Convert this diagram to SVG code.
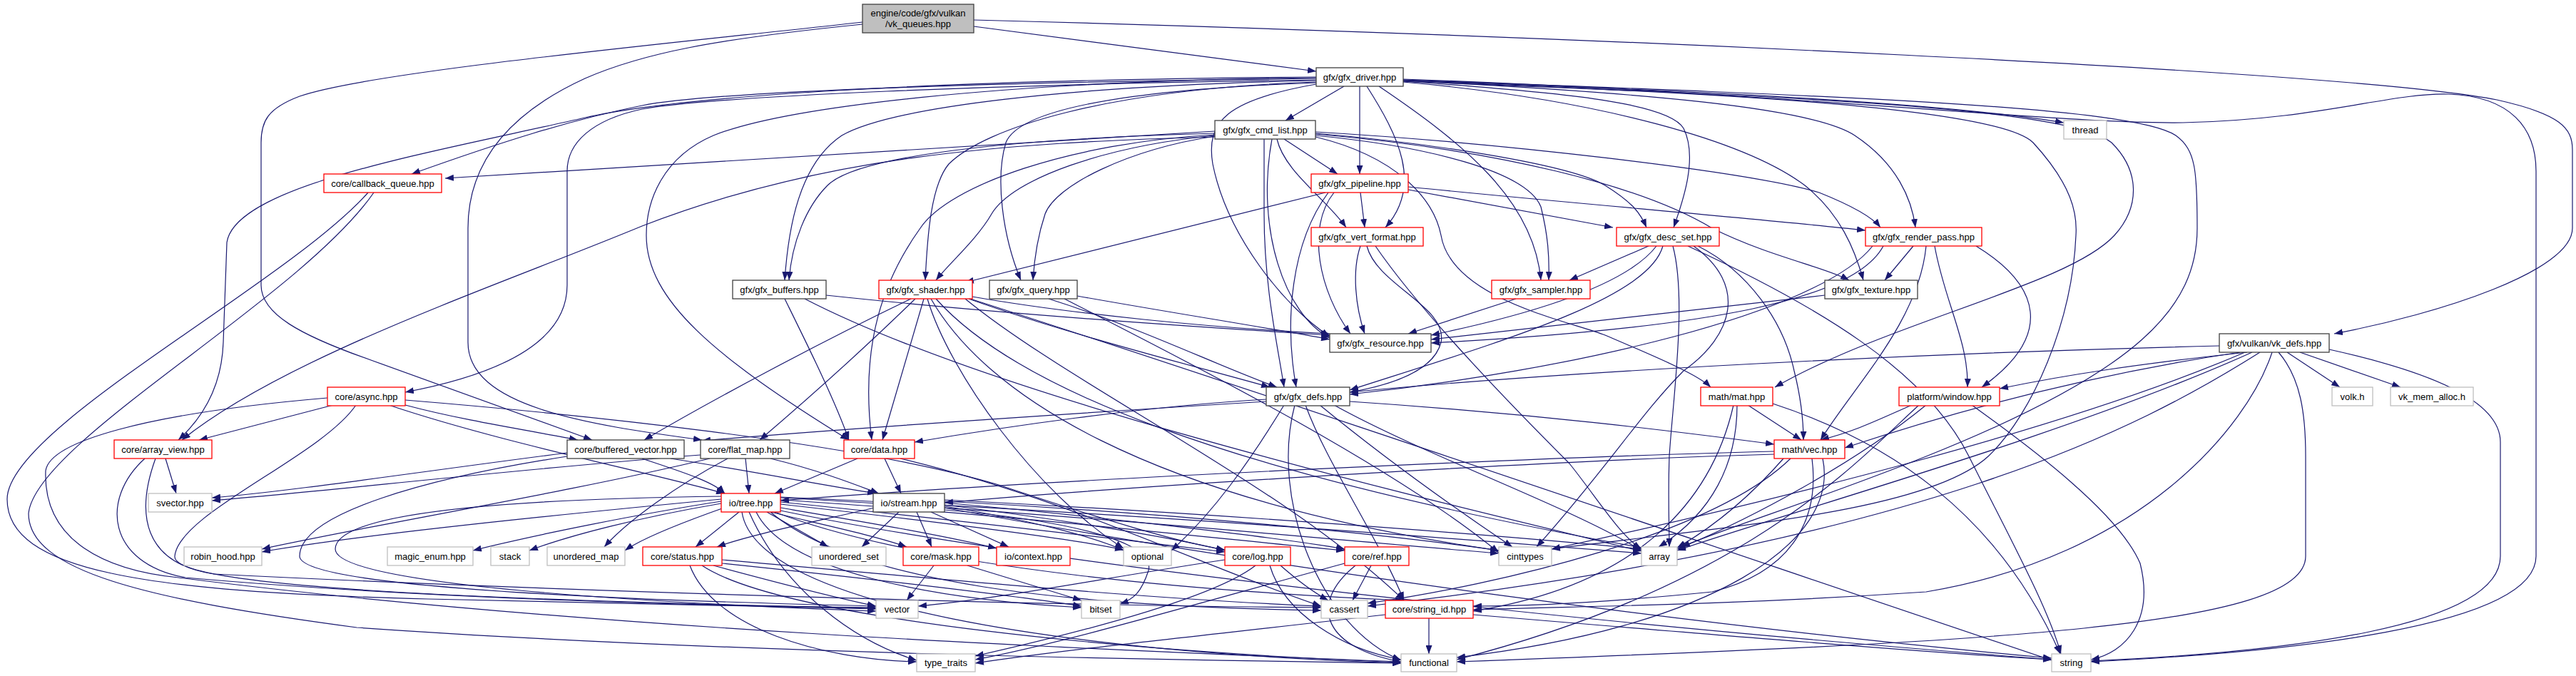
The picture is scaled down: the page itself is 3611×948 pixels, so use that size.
<svg xmlns="http://www.w3.org/2000/svg" width="3611" height="948" viewBox="0 0 3611 948">
<style>
text{font-family:"Liberation Sans",Arial,Helvetica,sans-serif;font-size:13px;text-anchor:middle;fill:#000}
rect{fill:#fff;stroke-width:1.3}
.k rect{stroke:#404040}
.r rect{stroke:#ff0000}
.g rect{stroke:#bfbfbf}
.root rect{fill:#bfbfbf;stroke:#404040}
#edges path{fill:none;stroke:#191970;stroke-width:1.2;marker-end:url(#a)}
</style>
<defs>
<marker id="a" markerWidth="12" markerHeight="9" refX="12" refY="4.5" orient="auto" markerUnits="userSpaceOnUse">
<path d="M0,0 L12,4.5 L0,9 z" fill="#191970"/>
</marker>
</defs>
<rect x="0" y="0" width="3611" height="948" style="fill:#fff;stroke:none"/>
<g id="edges">
<path d="M1365,37 L1845,100"/>
<path d="M1365,28 C2200,50 3300,100 3500,140 C3590,160 3606,180 3606,210 L3606,320 C3606,380 3420,440 3272,468"/>
<path d="M1209,31 C950,60 520,100 420,135 C375,152 366,170 366,200 L366,400 C366,440 420,470 520,505 L830,617"/>
<path d="M1209,34 C1000,55 900,75 820,110 C700,165 656,240 656,320 L656,480 C656,570 820,595 984,617"/>
<path d="M1884,121 L1802,169"/>
<path d="M1967,112 C2300,125 2700,140 2893,172"/>
<path d="M1845,110 C1400,115 1000,128 900,148 C800,168 700,200 577,244"/>
<path d="M1845,112 C1400,118 1000,135 900,153 C830,168 795,200 795,240 L795,400 C795,480 700,525 568,550"/>
<path d="M1845,108 C1300,112 950,135 820,165 C600,215 330,260 318,340 L313,480 C311,540 285,585 250,617"/>
<path d="M1845,113 C1500,120 1250,150 1180,190 C1120,230 1105,320 1100,393"/>
<path d="M1845,115 C1550,125 1380,180 1330,230 C1305,260 1300,330 1297,393"/>
<path d="M1845,116 C1600,125 1430,150 1410,200 C1395,250 1405,330 1431,393"/>
<path d="M1845,109 C1400,114 1100,150 1000,190 C930,220 906,280 906,330 C906,420 1000,500 1190,617"/>
<path d="M1906,121 L1906,244"/>
<path d="M1916,121 C1960,190 1995,260 1942,319"/>
<path d="M1967,114 C2200,130 2340,145 2360,180 C2380,220 2360,280 2346,319"/>
<path d="M1967,113 C2300,130 2540,150 2600,190 C2660,230 2680,280 2685,319"/>
<path d="M1933,121 C2050,200 2150,280 2160,393"/>
<path d="M1967,115 C2250,140 2450,200 2530,260 C2580,300 2600,350 2612,393"/>
<path d="M1845,118 C1720,140 1690,170 1700,230 C1720,330 1800,430 1864,472"/>
<path d="M1967,114 C2500,135 2900,150 2960,200 C3000,240 3000,290 2964,330 C2900,400 2650,450 2488,543"/>
<path d="M1967,112 C2600,135 2990,150 3050,190 C3078,210 3080,240 3080,320 C3080,430 3000,520 2700,640 C2550,700 2420,740 2357,767"/>
<path d="M1967,113 C2400,130 2800,150 2850,200 C2905,260 2912,300 2910,330 C2905,450 2850,580 2787,640 C2700,720 2400,740 2175,770"/>
<path d="M1967,111 C2500,130 2900,175 3060,172 C3250,168 3350,130 3432,132 C3520,135 3555,180 3555,240 L3555,780 C3555,880 3200,915 2931,928"/>
<path d="M1703,184 L624,250"/>
<path d="M1703,192 C1400,200 1150,220 900,317 C700,400 400,500 255,617"/>
<path d="M1703,187 C1400,195 1200,220 1160,260 C1130,290 1110,340 1106,393"/>
<path d="M1703,190 C1550,205 1420,250 1390,300 C1370,335 1330,370 1312,393"/>
<path d="M1703,191 C1580,210 1480,260 1465,300 C1455,330 1450,360 1448,393"/>
<path d="M1703,189 C1500,200 1330,260 1290,320 C1240,390 1205,480 1222,617"/>
<path d="M1800,195 L1875,244"/>
<path d="M1790,195 C1800,240 1860,280 1887,319"/>
<path d="M1844,187 C2000,200 2200,230 2250,260 C2290,285 2300,300 2308,319"/>
<path d="M1844,185 C2100,200 2450,240 2550,270 C2600,290 2625,305 2636,319"/>
<path d="M1844,190 C2000,205 2140,240 2160,290 C2170,330 2172,360 2171,393"/>
<path d="M1844,188 C2100,210 2300,260 2400,320 C2480,360 2560,375 2592,393"/>
<path d="M1783,195 C1760,320 1800,440 1864,474"/>
<path d="M1772,195 L1772,300 C1772,400 1790,480 1800,543"/>
<path d="M1844,192 C1960,220 2010,280 2020,330 C2035,420 2200,450 2250,470 C2320,500 2380,525 2398,543"/>
<path d="M1858,270 L1353,396"/>
<path d="M1907,270 L1913,319"/>
<path d="M1974,266 L2261,319"/>
<path d="M1974,262 C2200,285 2450,305 2615,323"/>
<path d="M1870,270 C1830,320 1850,410 1893,468"/>
<path d="M1862,270 C1810,340 1800,450 1817,543"/>
<path d="M1907,345 C1895,380 1900,430 1913,468"/>
<path d="M1916,345 C1930,400 2030,430 2020,480 C2010,520 1950,540 1892,550"/>
<path d="M1928,345 C2000,450 2150,600 2200,650 C2240,700 2270,750 2301,770"/>
<path d="M2311,345 L2200,393"/>
<path d="M2322,345 C2280,400 2150,440 2006,470"/>
<path d="M2331,345 C2310,420 2100,480 1892,547"/>
<path d="M2380,345 C2450,380 2500,450 2515,520 C2525,560 2528,590 2528,617"/>
<path d="M2345,345 C2365,420 2345,560 2340,640 C2338,700 2340,740 2340,767"/>
<path d="M2374,345 C2450,400 2430,470 2360,520 C2300,580 2250,660 2154,767"/>
<path d="M2366,345 C2550,430 2700,520 2760,640 C2820,760 2870,850 2889,917"/>
<path d="M2682,345 L2642,393"/>
<path d="M2640,345 C2600,420 2400,460 2006,481"/>
<path d="M2625,345 C2550,440 2200,520 1892,553"/>
<path d="M2770,345 C2860,400 2880,470 2778,543"/>
<path d="M2700,345 C2690,450 2600,540 2552,617"/>
<path d="M2125,419 L1974,468"/>
<path d="M2558,414 L2006,476"/>
<path d="M1158,414 C1400,440 1700,460 1864,470"/>
<path d="M1100,419 C1130,480 1170,560 1190,617"/>
<path d="M1128,419 C1400,560 2000,700 2301,773"/>
<path d="M1277,419 C1150,480 1000,560 903,617"/>
<path d="M1283,419 C1200,500 1120,570 1065,617"/>
<path d="M1295,419 L1237,617"/>
<path d="M1363,416 C1500,440 1700,460 1864,468"/>
<path d="M1358,419 C1500,470 1700,520 1780,543"/>
<path d="M1300,419 C1330,520 1450,690 1575,769"/>
<path d="M1305,419 C1380,550 1600,700 2101,772"/>
<path d="M1312,419 C1420,540 1700,660 2301,768"/>
<path d="M1353,419 C1500,540 1800,680 1968,842"/>
<path d="M1360,419 C1800,560 2500,800 2876,926"/>
<path d="M1510,415 C1650,440 1780,460 1864,476"/>
<path d="M1470,419 C1600,460 1700,510 1790,543"/>
<path d="M1492,419 C1650,500 1950,650 2101,775"/>
<path d="M1775,560 C1600,570 1400,600 1282,620"/>
<path d="M1775,563 C1500,580 1200,600 984,618"/>
<path d="M1892,563 C2150,580 2350,605 2487,623"/>
<path d="M1800,568 C1750,650 1700,720 1642,772"/>
<path d="M1850,568 C1950,650 2050,720 2120,767"/>
<path d="M1870,568 C2000,640 2200,710 2301,772"/>
<path d="M1830,568 C1860,650 1930,750 1968,842"/>
<path d="M1815,568 C1780,700 1850,880 1964,926"/>
<path d="M2450,568 L2525,617"/>
<path d="M2435,568 C2435,650 2400,720 2325,767"/>
<path d="M2430,568 C2400,700 2300,820 2065,857"/>
<path d="M2485,566 C2650,620 2800,720 2888,917"/>
<path d="M2680,568 C2630,590 2600,605 2552,617"/>
<path d="M2764,568 C2850,630 2970,720 3000,790 C3020,870 2980,915 2931,925"/>
<path d="M2690,568 C2600,650 2450,820 2042,925"/>
<path d="M2700,568 C2600,650 2450,730 2351,770"/>
<path d="M2712,345 C2725,420 2760,480 2758,543"/>
<path d="M3111,485 C2700,495 2200,520 1892,550"/>
<path d="M3150,494 C3000,510 2900,525 2803,545"/>
<path d="M3206,494 L3280,543"/>
<path d="M3224,494 L3365,543"/>
<path d="M3265,490 C3400,520 3505,560 3505,620 L3505,780 C3505,880 3200,915 2931,927"/>
<path d="M3194,494 C3225,530 3232,580 3232,640 L3232,780 C3232,880 2800,900 2042,928"/>
<path d="M3140,494 C2900,530 2700,590 2586,628"/>
<path d="M3147,494 C2900,600 2500,700 2175,770"/>
<path d="M3157,494 C2900,610 2500,720 2351,772"/>
<path d="M3168,494 C3000,600 2700,760 1917,850"/>
<path d="M3185,494 C3150,600 3000,780 2700,830 C2400,850 2200,850 2065,855"/>
<path d="M2487,633 C2200,640 1500,670 1094,702"/>
<path d="M2487,637 C2200,645 1600,680 1324,705"/>
<path d="M2540,643 C2550,720 2520,800 2400,830 C2250,845 2150,850 2065,850"/>
<path d="M2555,643 C2580,760 2400,880 2042,922"/>
<path d="M2510,643 C2400,750 2100,820 1917,846"/>
<path d="M2500,643 C2450,700 2400,740 2351,768"/>
<path d="M467,568 L279,617"/>
<path d="M568,568 C650,590 750,605 810,617"/>
<path d="M545,568 C700,620 900,660 1016,692"/>
<path d="M499,568 C450,640 250,720 245,780 C240,820 600,840 1228,853"/>
<path d="M459,558 C200,580 70,620 64,660 C60,760 150,800 250,810 C800,880 1500,910 1964,928"/>
<path d="M568,561 C800,580 1200,620 1400,680 C1550,730 1650,760 1717,771"/>
<path d="M232,643 L247,692"/>
<path d="M203,643 C140,700 150,790 260,810 C600,840 1000,850 1228,852"/>
<path d="M218,643 C190,720 200,790 300,805 C800,830 1500,850 1852,852"/>
<path d="M795,635 C600,660 400,690 297,698"/>
<path d="M900,643 C950,660 1000,675 1016,692"/>
<path d="M940,643 C1050,660 1150,680 1228,692"/>
<path d="M795,640 C600,670 420,720 420,780 C420,820 800,840 1228,850"/>
<path d="M1045,643 L1050,692"/>
<path d="M1080,643 C1150,660 1200,680 1232,692"/>
<path d="M995,643 C800,690 500,740 367,770"/>
<path d="M1020,643 C950,680 880,730 847,767"/>
<path d="M982,638 C700,660 450,690 297,702"/>
<path d="M1202,643 L1086,692"/>
<path d="M1240,643 L1263,692"/>
<path d="M1262,643 C1500,700 1700,800 1852,850"/>
<path d="M1011,700 C800,720 500,750 367,774"/>
<path d="M1011,703 C900,720 750,750 663,772"/>
<path d="M1011,706 C900,725 800,750 742,772"/>
<path d="M1015,712 C950,735 900,755 876,772"/>
<path d="M1036,718 L975,767"/>
<path d="M1075,718 L1161,767"/>
<path d="M1080,718 C1150,735 1230,752 1271,767"/>
<path d="M1094,712 C1200,730 1320,750 1397,769"/>
<path d="M1094,707 C1300,730 1500,755 1575,771"/>
<path d="M1094,704 C1350,730 1600,760 1717,774"/>
<path d="M1094,701 C1400,720 1750,760 1885,772"/>
<path d="M1094,698 C1500,720 1900,760 2101,776"/>
<path d="M1094,697 C1600,720 2100,760 2301,776"/>
<path d="M1011,696 C700,700 470,720 470,770 C470,820 900,845 1228,857"/>
<path d="M1060,718 C1100,800 1300,840 1516,852"/>
<path d="M1080,718 C1200,820 1500,850 1852,856"/>
<path d="M1086,718 C1300,800 1700,830 1968,842"/>
<path d="M1050,718 C1100,830 1200,900 1285,926"/>
<path d="M1040,718 C1060,850 1500,915 1964,930"/>
<path d="M1094,716 C1500,800 2300,880 2876,925"/>
<path d="M1226,712 C1150,730 1050,750 1005,767"/>
<path d="M1260,718 L1208,767"/>
<path d="M1285,718 L1306,767"/>
<path d="M1305,718 L1414,767"/>
<path d="M1324,710 C1450,730 1540,755 1575,772"/>
<path d="M1324,708 C1500,730 1650,755 1717,772"/>
<path d="M1324,705 C1550,725 1800,755 1885,770"/>
<path d="M1324,703 C1650,720 1950,750 2101,772"/>
<path d="M1324,701 C1700,720 2100,750 2301,770"/>
<path d="M1324,715 C1500,730 1620,760 1610,800 C1600,830 1590,840 1570,847"/>
<path d="M1324,712 C1800,800 2400,880 2876,923"/>
<path d="M1000,793 C1100,820 1180,840 1228,850"/>
<path d="M967,793 C1000,880 1150,925 1285,928"/>
<path d="M984,793 C1100,870 1600,915 1964,929"/>
<path d="M1012,785 C1300,810 1600,840 1852,850"/>
<path d="M1012,790 C1300,820 1450,840 1516,850"/>
<path d="M1309,793 L1271,842"/>
<path d="M1356,793 L1516,842"/>
<path d="M1717,785 C1550,810 1400,840 1287,850"/>
<path d="M1760,793 C1700,840 1500,890 1367,920"/>
<path d="M1780,793 C1800,860 1880,910 1964,925"/>
<path d="M1795,793 C1820,815 1840,830 1862,842"/>
<path d="M1922,793 L1896,842"/>
<path d="M1900,793 C1830,850 1860,910 1964,928"/>
<path d="M1885,790 C1700,840 1500,900 1367,925"/>
<path d="M2003,867 L2003,917"/>
<path d="M2065,862 C2400,890 2700,915 2876,925"/>
<path d="M1942,862 C1700,890 1500,910 1367,930"/>
<path d="M516,270 C400,400 10,600 10,700 C10,800 200,830 600,840 C900,848 1100,852 1228,854"/>
<path d="M524,270 C420,420 50,620 40,720 C40,800 200,840 500,880 C1000,915 1600,925 1964,930"/>
</g>
<g id="n_root" class="root"><rect x="1209" y="6" width="156" height="40"/><text x="1287" y="22.5">engine/code/gfx/vulkan</text><text x="1287" y="38">/vk_queues.hpp</text></g>
<g id="n_driver" class="k"><rect x="1845" y="95" width="122" height="26"/><text x="1906" y="112.5">gfx/gfx_driver.hpp</text></g>
<g id="n_cmd_list" class="k"><rect x="1703" y="169" width="141" height="26"/><text x="1773.5" y="186.5">gfx/gfx_cmd_list.hpp</text></g>
<g id="n_thread" class="g"><rect x="2893" y="169" width="60" height="26"/><text x="2923" y="186.5">thread</text></g>
<g id="n_callback_queue" class="r"><rect x="454" y="244" width="165" height="26"/><text x="536.5" y="261.5">core/callback_queue.hpp</text></g>
<g id="n_pipeline" class="r"><rect x="1838" y="244" width="136" height="26"/><text x="1906" y="261.5">gfx/gfx_pipeline.hpp</text></g>
<g id="n_vert_format" class="r"><rect x="1838" y="319" width="157" height="26"/><text x="1916.5" y="336.5">gfx/gfx_vert_format.hpp</text></g>
<g id="n_desc_set" class="r"><rect x="2266" y="319" width="144" height="26"/><text x="2338" y="336.5">gfx/gfx_desc_set.hpp</text></g>
<g id="n_render_pass" class="r"><rect x="2615" y="319" width="163" height="26"/><text x="2696.5" y="336.5">gfx/gfx_render_pass.hpp</text></g>
<g id="n_buffers" class="k"><rect x="1027" y="393" width="131" height="26"/><text x="1092.5" y="410.5">gfx/gfx_buffers.hpp</text></g>
<g id="n_shader" class="r"><rect x="1232" y="393" width="131" height="26"/><text x="1297.5" y="410.5">gfx/gfx_shader.hpp</text></g>
<g id="n_query" class="k"><rect x="1387" y="393" width="123" height="26"/><text x="1448.5" y="410.5">gfx/gfx_query.hpp</text></g>
<g id="n_sampler" class="r"><rect x="2091" y="393" width="138" height="26"/><text x="2160" y="410.5">gfx/gfx_sampler.hpp</text></g>
<g id="n_texture" class="k"><rect x="2558" y="393" width="130" height="26"/><text x="2623" y="410.5">gfx/gfx_texture.hpp</text></g>
<g id="n_resource" class="k"><rect x="1864" y="468" width="142" height="26"/><text x="1935" y="485.5">gfx/gfx_resource.hpp</text></g>
<g id="n_vk_defs" class="k"><rect x="3111" y="468" width="154" height="26"/><text x="3188" y="485.5">gfx/vulkan/vk_defs.hpp</text></g>
<g id="n_async" class="r"><rect x="459" y="543" width="109" height="26"/><text x="513.5" y="560.5">core/async.hpp</text></g>
<g id="n_gfx_defs" class="k"><rect x="1775" y="543" width="117" height="26"/><text x="1833.5" y="560.5">gfx/gfx_defs.hpp</text></g>
<g id="n_mat" class="r"><rect x="2384" y="543" width="101" height="26"/><text x="2434.5" y="560.5">math/mat.hpp</text></g>
<g id="n_window" class="r"><rect x="2662" y="543" width="141" height="26"/><text x="2732.5" y="560.5">platform/window.hpp</text></g>
<g id="n_volk" class="g"><rect x="3269" y="543" width="57" height="26"/><text x="3297.5" y="560.5">volk.h</text></g>
<g id="n_vk_mem_alloc" class="g"><rect x="3351" y="543" width="116" height="26"/><text x="3409" y="560.5">vk_mem_alloc.h</text></g>
<g id="n_array_view" class="r"><rect x="160" y="617" width="137" height="26"/><text x="228.5" y="634.5">core/array_view.hpp</text></g>
<g id="n_buffered_vector" class="k"><rect x="795" y="617" width="164" height="26"/><text x="877" y="634.5">core/buffered_vector.hpp</text></g>
<g id="n_flat_map" class="k"><rect x="982" y="617" width="125" height="26"/><text x="1044.5" y="634.5">core/flat_map.hpp</text></g>
<g id="n_data" class="r"><rect x="1183" y="617" width="99" height="26"/><text x="1232.5" y="634.5">core/data.hpp</text></g>
<g id="n_vec" class="r"><rect x="2487" y="617" width="99" height="26"/><text x="2536.5" y="634.5">math/vec.hpp</text></g>
<g id="n_svector" class="g"><rect x="208" y="692" width="89" height="26"/><text x="252.5" y="709.5">svector.hpp</text></g>
<g id="n_tree" class="r"><rect x="1011" y="692" width="83" height="26"/><text x="1052.5" y="709.5">io/tree.hpp</text></g>
<g id="n_stream" class="k"><rect x="1224" y="692" width="100" height="26"/><text x="1274" y="709.5">io/stream.hpp</text></g>
<g id="n_robin_hood" class="g"><rect x="258" y="767" width="109" height="26"/><text x="312.5" y="784.5">robin_hood.hpp</text></g>
<g id="n_magic_enum" class="g"><rect x="543" y="767" width="120" height="26"/><text x="603" y="784.5">magic_enum.hpp</text></g>
<g id="n_stack" class="g"><rect x="688" y="767" width="54" height="26"/><text x="715" y="784.5">stack</text></g>
<g id="n_unordered_map" class="g"><rect x="767" y="767" width="109" height="26"/><text x="821.5" y="784.5">unordered_map</text></g>
<g id="n_status" class="r"><rect x="901" y="767" width="111" height="26"/><text x="956.5" y="784.5">core/status.hpp</text></g>
<g id="n_unordered_set" class="g"><rect x="1138" y="767" width="104" height="26"/><text x="1190" y="784.5">unordered_set</text></g>
<g id="n_mask" class="r"><rect x="1266" y="767" width="106" height="26"/><text x="1319" y="784.5">core/mask.hpp</text></g>
<g id="n_context" class="r"><rect x="1397" y="767" width="103" height="26"/><text x="1448.5" y="784.5">io/context.hpp</text></g>
<g id="n_optional" class="g"><rect x="1575" y="767" width="67" height="26"/><text x="1608.5" y="784.5">optional</text></g>
<g id="n_log" class="r"><rect x="1717" y="767" width="92" height="26"/><text x="1763" y="784.5">core/log.hpp</text></g>
<g id="n_ref" class="r"><rect x="1885" y="767" width="90" height="26"/><text x="1930" y="784.5">core/ref.hpp</text></g>
<g id="n_cinttypes" class="g"><rect x="2101" y="767" width="74" height="26"/><text x="2138" y="784.5">cinttypes</text></g>
<g id="n_array" class="g"><rect x="2301" y="767" width="50" height="26"/><text x="2326" y="784.5">array</text></g>
<g id="n_vector" class="g"><rect x="1228" y="842" width="59" height="25"/><text x="1257.5" y="859">vector</text></g>
<g id="n_bitset" class="g"><rect x="1516" y="842" width="54" height="25"/><text x="1543" y="859">bitset</text></g>
<g id="n_cassert" class="g"><rect x="1852" y="842" width="65" height="25"/><text x="1884.5" y="859">cassert</text></g>
<g id="n_string_id" class="r"><rect x="1942" y="842" width="123" height="25"/><text x="2003.5" y="859">core/string_id.hpp</text></g>
<g id="n_type_traits" class="g"><rect x="1285" y="917" width="82" height="25"/><text x="1326" y="934">type_traits</text></g>
<g id="n_functional" class="g"><rect x="1964" y="917" width="78" height="25"/><text x="2003" y="934">functional</text></g>
<g id="n_string" class="g"><rect x="2876" y="917" width="55" height="25"/><text x="2903.5" y="934">string</text></g>
</svg>
